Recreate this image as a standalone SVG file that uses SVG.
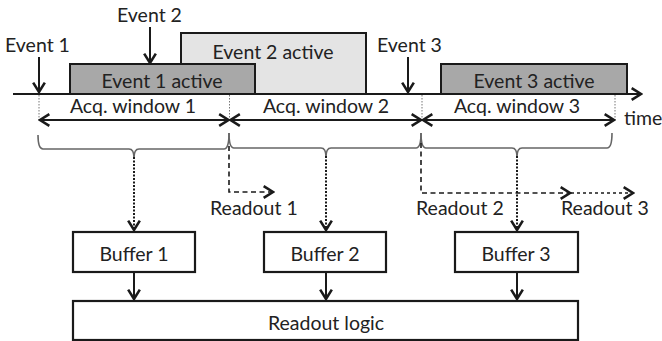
<svg xmlns="http://www.w3.org/2000/svg" width="662" height="341" viewBox="0 0 662 341">
<style>
  text { font-family: Lato, "Open Sans", "Liberation Sans", sans-serif; font-size: 19.5px; fill: #222; }
  .mid { text-anchor: middle; }
  .ln { stroke: #1a1a1a; stroke-width: 2; fill: none; }
  .box { stroke: #1a1a1a; stroke-width: 2.2; fill: #fff; }
  .guide { stroke: #777; stroke-width: 1; stroke-dasharray: 1.5 1.5; fill: none; }
  .brace { stroke: #666; stroke-width: 1.6; fill: none; }
  .dot { stroke: #1a1a1a; stroke-width: 2; stroke-dasharray: 2 1.5; fill: none; }
  .dash { stroke: #1a1a1a; stroke-width: 1.6; stroke-dasharray: 5 3.5; fill: none; }
  .dash2 { stroke: #1a1a1a; stroke-width: 1.6; stroke-dasharray: 3 3; fill: none; }
</style>
<defs>
  <marker id="ah" markerUnits="userSpaceOnUse" markerWidth="14" markerHeight="14" refX="10" refY="6" orient="auto-start-reverse" viewBox="0 0 12 12">
    <path d="M2,1 L10,6 L2,11" fill="none" stroke="#1a1a1a" stroke-width="2.2"/>
  </marker>
</defs>

<g id="active-boxes">
  <rect id="event2-active" x="181" y="33" width="185" height="61" fill="#e4e4e4" stroke="#1a1a1a" stroke-width="2"/>
  <text class="mid" x="273" y="59">Event 2 active</text>
  <rect id="event1-active" x="70" y="64" width="185" height="30" fill="#a8a8a8" stroke="#1a1a1a" stroke-width="2"/>
  <text class="mid" x="162" y="88">Event 1 active</text>
  <rect id="event3-active" x="441" y="64" width="186" height="30" fill="#a8a8a8" stroke="#1a1a1a" stroke-width="2"/>
  <text class="mid" x="534" y="88">Event 3 active</text>
</g>

<g id="events">
  <text x="5" y="52">Event 1</text>
  <text x="117" y="22">Event 2</text>
  <text x="377" y="52">Event 3</text>
  <text x="624" y="125">time</text>
</g>

<g id="acq-labels">
  <text class="mid" x="133" y="113">Acq. window 1</text>
  <text class="mid" x="326" y="113">Acq. window 2</text>
  <text class="mid" x="517" y="113">Acq. window 3</text>
</g>

<g id="readout-labels">
  <text x="210" y="215">Readout 1</text>
  <text x="416" y="215">Readout 2</text>
  <text x="561" y="215">Readout 3</text>
</g>

<g id="buffer1">
  <rect class="box" x="73" y="232" width="122" height="40"/>
  <text class="mid" x="134" y="261">Buffer 1</text>
</g>
<g id="buffer2">
  <rect class="box" x="264" y="232" width="122" height="40"/>
  <text class="mid" x="325" y="261">Buffer 2</text>
</g>
<g id="buffer3">
  <rect class="box" x="455" y="232" width="123" height="40"/>
  <text class="mid" x="516" y="261">Buffer 3</text>
</g>
<g id="readout-logic">
  <rect class="box" x="73" y="301" width="505" height="39"/>
  <text class="mid" x="326" y="330">Readout logic</text>
</g>

<g id="connectors">
  <!-- time axis -->
  <line class="ln" x1="13" y1="94" x2="641" y2="94" marker-end="url(#ah)"/>
  <!-- event arrows -->
  <line class="ln" x1="39" y1="57" x2="39" y2="92" marker-end="url(#ah)"/>
  <line class="ln" x1="150" y1="27" x2="150" y2="63" marker-end="url(#ah)"/>
  <line class="ln" x1="408" y1="57" x2="408" y2="92" marker-end="url(#ah)"/>
  <!-- guides -->
  <line class="guide" x1="39" y1="95" x2="39" y2="120"/>
  <line class="guide" x1="229.5" y1="95" x2="229.5" y2="120"/>
  <line class="guide" x1="422" y1="95" x2="422" y2="120"/>
  <line class="guide" x1="615" y1="95" x2="615" y2="120"/>
  <!-- acquisition windows -->
  <line class="ln" x1="40" y1="120" x2="228.5" y2="120" marker-start="url(#ah)" marker-end="url(#ah)"/>
  <line class="ln" x1="230.5" y1="120" x2="421" y2="120" marker-start="url(#ah)" marker-end="url(#ah)"/>
  <line class="ln" x1="423" y1="120" x2="614" y2="120" marker-start="url(#ah)" marker-end="url(#ah)"/>
  <!-- braces -->
  <path class="brace" d="M38,135 Q38,149 43,149 L129,149 Q134,149 134,158 Q134,149 139,149 L224,149 Q229,149 229,133"/>
  <path class="brace" d="M229,133 Q229,148 234,148 L321,148 Q326,148 326,157 Q326,148 331,148 L416,148 Q421,148 421,133"/>
  <path class="brace" d="M421,133 Q421,148 426,148 L512,148 Q517,148 517,157 Q517,148 522,148 L607,148 Q612,148 612,133"/>
  <!-- dotted to buffers -->
  <line class="dot" x1="134" y1="157" x2="134" y2="230" marker-end="url(#ah)"/>
  <line class="dot" x1="326" y1="156" x2="326" y2="230" marker-end="url(#ah)"/>
  <line class="dot" x1="517" y1="156" x2="517" y2="230" marker-end="url(#ah)"/>
  <!-- readout dashed -->
  <path class="dash" d="M229,146 L229,192 L273,192" marker-end="url(#ah)"/>
  <path class="dash" d="M421,143 L421,193 L570,193" marker-end="url(#ah)"/>
  <line class="dash2" x1="571" y1="193" x2="633" y2="193" marker-end="url(#ah)"/>
  <!-- buffers to logic -->
  <line class="ln" x1="134" y1="273" x2="134" y2="299" marker-end="url(#ah)"/>
  <line class="ln" x1="326" y1="273" x2="326" y2="299" marker-end="url(#ah)"/>
  <line class="ln" x1="517" y1="273" x2="517" y2="299" marker-end="url(#ah)"/>
</g>
</svg>
